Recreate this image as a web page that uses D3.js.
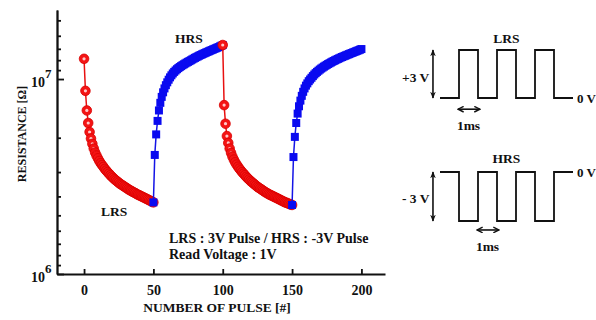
<!DOCTYPE html>
<html>
<head>
<meta charset="utf-8">
<script src="https://cdn.jsdelivr.net/npm/d3@7"></script>
<style>
    body { margin: 0; background: #fff; }
    svg { display: block; font-family: "Liberation Serif", "Times New Roman", serif; font-weight: bold; }
    .axis path, .axis line { stroke: #111; stroke-width: 1.8; }
    .axis text { font-family: "Liberation Serif", serif; font-weight: bold; font-size: 14px; fill: #111; }
</style>
</head>
<body>
<svg id="chart"></svg>
<script>
// resistance in MOhm, one value per pulse
const lrs1Pulse = d3.range(0, 51);
const lrs1 = [12.7, 8.7, 6.9, 5.95, 5.35, 4.95, 4.65, 4.4, 4.2, 4.05, 3.92, 3.8, 3.7, 3.62, 3.54, 3.46, 3.39, 3.33, 3.27, 3.21,
    3.16, 3.11, 3.06, 3.02, 2.98, 2.94, 2.9, 2.87, 2.84, 2.81, 2.78, 2.75, 2.72, 2.69, 2.67, 2.64, 2.62, 2.6, 2.57, 2.55,
    2.53, 2.51, 2.49, 2.47, 2.45, 2.43, 2.41, 2.39, 2.37, 2.35, 2.33];
const hrs1Pulse = d3.range(50, 101);
const hrs1 = [2.33, 4.08, 5.2, 6.1, 6.9, 7.55, 8.1, 8.55, 8.95, 9.3, 9.62, 9.92, 10.2, 10.45, 10.68, 10.88, 11.06, 11.23, 11.38, 11.52,
    11.65, 11.78, 11.9, 12.02, 12.14, 12.25, 12.36, 12.48, 12.6, 12.72, 12.84, 12.95, 13.06, 13.17, 13.28, 13.38, 13.48, 13.58, 13.68, 13.78,
    13.88, 13.98, 14.08, 14.18, 14.28, 14.38, 14.48, 14.58, 14.7, 14.82, 14.95];
const lrs2Pulse = d3.range(100, 151);
const lrs2 = [14.95, 7.35, 5.9, 5.1, 4.7, 4.4, 4.18, 4.0, 3.86, 3.74, 3.64, 3.55, 3.47, 3.4, 3.33, 3.27, 3.21, 3.15, 3.1, 3.05,
    3.0, 2.96, 2.92, 2.88, 2.84, 2.8, 2.77, 2.74, 2.71, 2.68, 2.65, 2.62, 2.6, 2.57, 2.55, 2.53, 2.51, 2.49, 2.47, 2.45,
    2.43, 2.41, 2.39, 2.37, 2.35, 2.33, 2.32, 2.3, 2.29, 2.27, 2.26];
const hrs2Pulse = d3.range(150, 201);
const hrs2 = [2.26, 3.98, 5.05, 5.95, 6.65, 7.25, 7.75, 8.2, 8.6, 8.95, 9.25, 9.5, 9.75, 9.95, 10.15, 10.35, 10.55, 10.72, 10.88, 11.03,
    11.18, 11.32, 11.45, 11.58, 11.7, 11.82, 11.94, 12.05, 12.16, 12.27, 12.38, 12.48, 12.58, 12.68, 12.78, 12.88, 12.97, 13.06, 13.15, 13.24,
    13.33, 13.42, 13.51, 13.6, 13.69, 13.78, 13.87, 13.96, 14.05, 14.15, 14.25];

const xTicks = [0, 50, 100, 150, 200];
const yMajorTicks = [1, 10];           // 10^6, 10^7 ohm
const yMajorExp = ["6", "7"];
const minorTickDivisors = [2, 3, 4, 5, 6, 7, 8, 9];

// pulse schematic (ms / V)
const pulseTimes = [0, 1, 2, 3, 4, 5, 6, 7];
const lrsLevels = [0, 3, 0, 3, 0, 3, 0, 0];
const hrsLevels = [0, -3, 0, -3, 0, -3, 0, 0];

const W = 596, H = 320;
const svg = d3.select("#chart").attr("width", W).attr("height", H);

const x = d3.scaleLinear().domain([-19.5, 217]).range([57, 385]);
const y = d3.scaleLog().domain([1, 22.6]).range([274, 10]);

// minor ticks mirrored inside each decade (as in the original plot)
const yMinor = [];
[10, 100].forEach(top => minorTickDivisors.forEach(k => {
    const v = top / k;
    if (v > 1 && v < 22.6 && v !== 10) yMinor.push(v);
}));

// axes
svg.append("g").attr("class", "axis")
    .attr("transform", "translate(57,0)")
    .call(d3.axisLeft(y).tickValues(yMinor).tickSize(-4).tickSizeOuter(0).tickFormat(""));
svg.append("g").attr("class", "axis")
    .attr("transform", "translate(57,0)")
    .call(d3.axisLeft(y).tickValues(yMajorTicks).tickSize(-7).tickSizeOuter(0).tickFormat(""));

const yLab = svg.append("g");
yMajorTicks.forEach((v, i) => {
    const t = yLab.append("text")
        .attr("x", 31).attr("y", y(v) + 8)
        .attr("font-size", 14).attr("fill", "#111");
    t.append("tspan").text("10");
    t.append("tspan").attr("dy", -9).attr("font-size", 13).text(yMajorExp[i]);
});

svg.append("g").attr("class", "axis")
    .attr("transform", "translate(0,274)")
    .call(d3.axisBottom(x).tickValues(xTicks).tickSize(-5).tickSizeOuter(0).tickPadding(11));

svg.append("text")
    .attr("x", 217).attr("y", 312)
    .attr("text-anchor", "middle").attr("font-size", 13.5).attr("fill", "#111")
    .text("NUMBER OF PULSE [#]");
svg.append("text")
    .attr("transform", "translate(26,134) rotate(-90)")
    .attr("text-anchor", "middle").attr("font-size", 12).attr("fill", "#111")
    .text("RESISTANCE [\u03A9]");

// series
const line = d3.line().x(d => x(d[0])).y(d => y(d[1]));

function drawLrs(pulses, vals) {
    const pts = pulses.map((p, i) => [p, vals[i]]);
    const g = svg.append("g");
    g.append("path").datum(pts).attr("d", line)
        .attr("fill", "none").attr("stroke", "#e81010").attr("stroke-width", 1.5);
    // one group per marker so later markers cover earlier highlights
    const m = g.selectAll("g.m").data(pts).join("g")
        .attr("class", "m")
        .attr("transform", d => `translate(${x(d[0])},${y(d[1])})`);
    m.append("circle").attr("r", 4.8)
        .attr("fill", "#f41414").attr("stroke", "#d80000").attr("stroke-width", 0.8);
    m.append("circle").attr("r", 1.6).attr("fill", "#ffc8c8");
}

function drawHrs(pulses, vals) {
    const pts = pulses.map((p, i) => [p, vals[i]]);
    const g = svg.append("g");
    g.append("path").datum(pts).attr("d", line)
        .attr("fill", "none").attr("stroke", "#1414e6").attr("stroke-width", 1.5);
    g.selectAll("rect").data(pts).join("rect")
        .attr("x", d => x(d[0]) - 4).attr("y", d => y(d[1]) - 4)
        .attr("width", 8).attr("height", 8)
        .attr("fill", "#0a0af0");
}

drawLrs(lrs1Pulse, lrs1);
drawHrs(hrs1Pulse, hrs1);
drawLrs(lrs2Pulse, lrs2);
drawHrs(hrs2Pulse, hrs2);

// annotations
const ann = svg.append("g").attr("font-size", 13.5).attr("fill", "#111");
ann.append("text").attr("x", 175).attr("y", 43).text("HRS");
ann.append("text").attr("x", 101).attr("y", 216).text("LRS");
ann.append("text").attr("x", 169).attr("y", 243).attr("font-size", 14).text("LRS : 3V Pulse / HRS : -3V Pulse");
ann.append("text").attr("x", 169).attr("y", 259).attr("font-size", 14).text("Read Voltage : 1V");

// pulse schematic
const defs = svg.append("defs");
defs.append("marker").attr("id", "headV")
    .attr("viewBox", "0 0 10 10").attr("refX", 9).attr("refY", 5)
    .attr("markerWidth", 7).attr("markerHeight", 7).attr("markerUnits", "userSpaceOnUse")
    .attr("orient", "auto-start-reverse")
    .append("path").attr("d", "M0,1 L10,5 L0,9 L3,5 Z").attr("fill", "#111");
defs.append("marker").attr("id", "headH")
    .attr("viewBox", "0 0 10 10").attr("refX", 9).attr("refY", 5)
    .attr("markerWidth", 7).attr("markerHeight", 7).attr("markerUnits", "userSpaceOnUse")
    .attr("orient", "auto-start-reverse")
    .append("path").attr("d", "M1,1 L9,5 L1,9").attr("fill", "none").attr("stroke", "#111").attr("stroke-width", 2);

const t = d3.scaleLinear().domain([0, 7]).range([440, 573]);
const vTop = d3.scaleLinear().domain([0, 3]).range([98, 50]);
const vBot = d3.scaleLinear().domain([-3, 0]).range([221, 172]);

function drawWave(levels, vs, label, labelY, ampText, ampY, arrowY) {
    const g = svg.append("g");
    const wave = d3.line().curve(d3.curveStepAfter).x(d => t(d[0])).y(d => vs(d[1]));
    g.append("path").datum(pulseTimes.map((p, i) => [p, levels[i]])).attr("d", wave)
        .attr("fill", "none").attr("stroke", "#111").attr("stroke-width", 1.8);
    const amp = d3.extent(levels);
    g.append("line")
        .attr("x1", t(-0.37)).attr("x2", t(-0.37))
        .attr("y1", vs(amp[0])).attr("y2", vs(amp[1]))
        .attr("stroke", "#111").attr("stroke-width", 1.6)
        .attr("marker-start", "url(#headV)").attr("marker-end", "url(#headV)");
    const a0 = levels[1] > 0 ? 1 : 2;
    g.append("line")
        .attr("x1", t(a0 - 0.05)).attr("x2", t(a0 + 1.1))
        .attr("y1", vs(arrowY)).attr("y2", vs(arrowY))
        .attr("stroke", "#111").attr("stroke-width", 1.6)
        .attr("marker-start", "url(#headH)").attr("marker-end", "url(#headH)");
    g.append("text").attr("x", t(a0 + 0.5)).attr("y", vs(arrowY) + 21)
        .attr("text-anchor", "middle").attr("font-size", 13.5).attr("fill", "#111").text("1ms");
    g.append("text").attr("x", t(3.5)).attr("y", labelY)
        .attr("text-anchor", "middle").attr("font-size", 13.5).attr("fill", "#111").text(label);
    g.append("text").attr("x", 402).attr("y", ampY)
        .attr("font-size", 13.5).attr("fill", "#111").text(ampText);
    g.append("text").attr("x", 577).attr("y", vs(0) + 5)
        .attr("font-size", 13).attr("fill", "#111").text("0 V");
}

drawWave(lrsLevels, vTop, "LRS", 43, "+3 V", 82, -0.7);
drawWave(hrsLevels, vBot, "HRS", 163, "- 3 V", 203, -3.55);
</script>
</body>
</html>
